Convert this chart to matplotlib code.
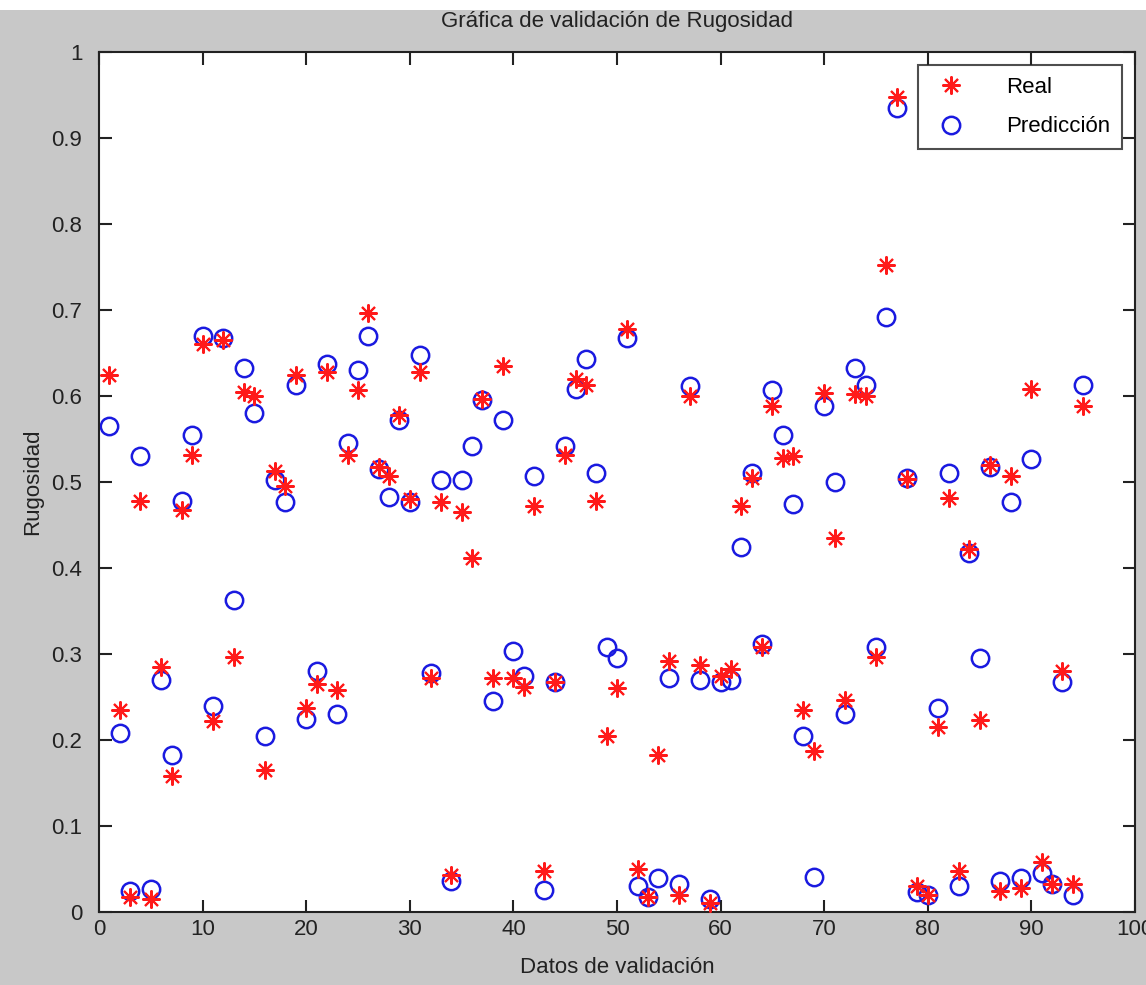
import matplotlib
matplotlib.use("Agg")
import matplotlib.pyplot as plt
from matplotlib.patches import Rectangle

# ---------------- data ----------------
indices = list(range(1, 96))
real = [0.625, 0.235, 0.018, 0.478, 0.015, 0.285, 0.158, 0.468, 0.532, 0.660,
        0.222, 0.665, 0.297, 0.605, 0.600, 0.165, 0.513, 0.495, 0.625, 0.237,
        0.265, 0.628, 0.258, 0.532, 0.607, 0.697, 0.517, 0.507, 0.578, 0.480,
        0.628, 0.272, 0.477, 0.043, 0.465, 0.412, 0.597, 0.272, 0.635, 0.272,
        0.262, 0.472, 0.048, 0.268, 0.532, 0.620, 0.613, 0.478, 0.205, 0.260,
        0.678, 0.050, 0.018, 0.183, 0.292, 0.020, 0.600, 0.287, 0.010, 0.275,
        0.283, 0.472, 0.505, 0.308, 0.588, 0.528, 0.530, 0.235, 0.187, 0.603,
        0.435, 0.247, 0.602, 0.600, 0.297, 0.752, 0.948, 0.503, 0.030, 0.020,
        0.215, 0.482, 0.048, 0.422, 0.223, 0.520, 0.025, 0.507, 0.028, 0.608,
        0.058, 0.033, 0.280, 0.033, 0.588]
prediccion = [0.565, 0.208, 0.025, 0.530, 0.027, 0.270, 0.183, 0.478, 0.555, 0.670,
              0.240, 0.668, 0.363, 0.633, 0.580, 0.205, 0.502, 0.477, 0.613, 0.225,
              0.280, 0.637, 0.230, 0.545, 0.630, 0.670, 0.515, 0.483, 0.572, 0.477,
              0.648, 0.278, 0.502, 0.036, 0.502, 0.542, 0.595, 0.245, 0.572, 0.303,
              0.275, 0.507, 0.026, 0.267, 0.542, 0.608, 0.643, 0.510, 0.308, 0.295,
              0.668, 0.030, 0.018, 0.040, 0.272, 0.032, 0.612, 0.270, 0.015, 0.268,
              0.270, 0.425, 0.510, 0.312, 0.607, 0.555, 0.475, 0.205, 0.041, 0.588,
              0.500, 0.230, 0.633, 0.613, 0.308, 0.692, 0.935, 0.505, 0.023, 0.020,
              0.237, 0.510, 0.030, 0.417, 0.295, 0.518, 0.036, 0.477, 0.040, 0.527,
              0.045, 0.033, 0.267, 0.020, 0.613]
x_ticks = [0, 10, 20, 30, 40, 50, 60, 70, 80, 90, 100]
y_ticks = [0, 0.1, 0.2, 0.3, 0.4, 0.5, 0.6, 0.7, 0.8, 0.9, 1]
y_ticklabels = ["0", "0.1", "0.2", "0.3", "0.4", "0.5", "0.6", "0.7", "0.8", "0.9", "1"]

title = "Gráfica de validación de Rugosidad"
xlabel = "Datos de validación"
ylabel = "Rugosidad"
labels = ["Real", "Predicción"]

# ---------------- style ----------------
plt.rcParams['font.family'] = ['Liberation Sans Narrow', 'Liberation Sans', 'DejaVu Sans']

fig = plt.figure(figsize=(11.46, 9.85), dpi=100, facecolor='#c8c8c8')
# white strip at top of the screenshot
fig.patches.append(Rectangle((0, 0.99), 1, 0.01, transform=fig.transFigure,
                             facecolor='white', edgecolor='none', zorder=-1))

ax = fig.add_axes([0.0864, 0.0741, 0.904, 0.873])
ax.set_facecolor('white')

ax.plot(indices, real, linestyle='none', marker=(8, 2, 0), markersize=13,
        markeredgecolor='#ff1a1a', markeredgewidth=1.5, label=labels[0], zorder=3)
ax.plot(indices, prediccion, linestyle='none', marker='o', markersize=12.5,
        markerfacecolor='none', markeredgecolor='#1a1ae0', markeredgewidth=1.8,
        label=labels[1], zorder=2)

ax.set_xlim(0, 100)
ax.set_ylim(0, 1)
ax.set_xticks(x_ticks)
ax.set_yticks(y_ticks)
ax.set_yticklabels(y_ticklabels)
ax.tick_params(direction='in', length=9, width=1.5, top=True, right=True,
               labelsize=16, colors='#222222')
ax.tick_params(axis='y', pad=12)
ax.tick_params(axis='x', pad=5)
for s in ax.spines.values():
    s.set_linewidth(1.5)
    s.set_color('#222222')

ax.set_title(title, fontsize=16, pad=18, color='#222222')
ax.set_xlabel(xlabel, fontsize=16, labelpad=12, color='#222222')
ax.set_ylabel(ylabel, fontsize=16, labelpad=6, color='#222222')

leg = ax.legend(loc='upper right', fontsize=16, frameon=True, fancybox=False,
                borderpad=0.5, handletextpad=1.5, labelspacing=0.85,
                borderaxespad=0.6, handlelength=2.0)
leg.get_frame().set_edgecolor('#222222')
leg.get_frame().set_linewidth(1.5)

fig.savefig('out.png', dpi=100, facecolor=fig.get_facecolor())
